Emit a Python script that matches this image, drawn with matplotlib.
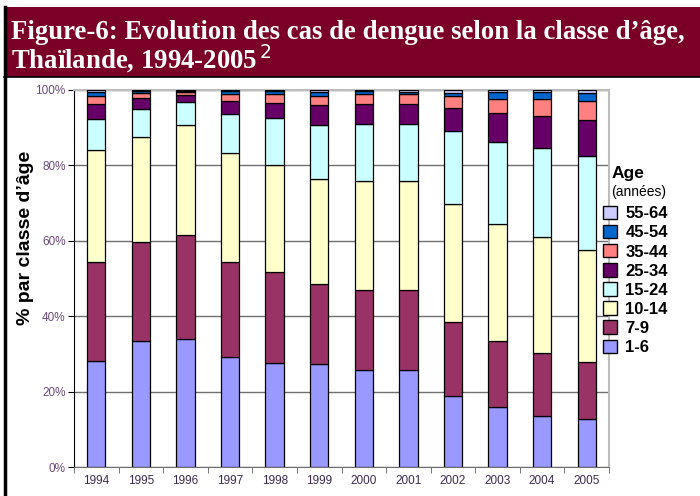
import matplotlib.pyplot as plt
import numpy as np
from matplotlib.patches import Rectangle, Patch
from matplotlib.lines import Line2D

years = ['1994', '1995', '1996', '1997', '1998', '1999',
         '2000', '2001', '2002', '2003', '2004', '2005']
age_groups = ['1-6', '7-9', '10-14', '15-24', '25-34', '35-44', '45-54', '55-64']

# share of cases (%) per age group
age_1_6 = [28.0, 33.4, 34.0, 29.2, 27.7, 27.2, 25.8, 25.8, 18.8, 15.9, 13.5, 12.6]
age_7_9 = [26.3, 26.2, 27.6, 25.1, 24.0, 21.4, 21.2, 21.2, 19.6, 17.5, 16.8, 15.3]
age_10_14 = [29.8, 27.9, 29.2, 29.0, 28.4, 27.8, 28.9, 28.9, 31.4, 31.1, 30.7, 29.6]
age_15_24 = [8.2, 7.5, 6.1, 10.3, 12.6, 14.2, 15.2, 15.2, 19.4, 21.6, 23.6, 24.9]
age_25_34 = [4.0, 2.8, 1.9, 3.6, 3.9, 5.3, 5.2, 5.2, 6.0, 7.7, 8.6, 9.7]
age_35_44 = [2.1, 1.3, 0.7, 1.7, 2.3, 2.5, 2.6, 2.6, 3.1, 3.7, 4.3, 5.0]
age_45_54 = [1.1, 0.6, 0.3, 0.8, 0.8, 1.2, 0.8, 0.7, 1.0, 2.0, 2.1, 2.1]
age_55_64 = [0.5, 0.3, 0.2, 0.3, 0.3, 0.4, 0.3, 0.4, 0.7, 0.5, 0.4, 0.8]

series = [age_1_6, age_7_9, age_10_14, age_15_24,
          age_25_34, age_35_44, age_45_54, age_55_64]
colors = ['#9999FF', '#993366', '#FFFFCC', '#CCFFFF',
          '#660066', '#FF8080', '#0066CC', '#CCCCFF']

plt.rcParams['font.family'] = ['Liberation Sans', 'DejaVu Sans']

fig = plt.figure(figsize=(7, 4.96), dpi=100)
ax = fig.add_axes([74 / 700, 1 - 467 / 496, 535 / 700, 377 / 496])

# title band
fig.patches.append(Rectangle((4 / 700, 1 - 77 / 496), 696 / 700, 70 / 496,
                             transform=fig.transFigure, facecolor='#7A0027',
                             edgecolor='none', zorder=0))
fig.lines.append(Line2D([5 / 700, 5 / 700], [0, 1 - 7 / 496],
                        transform=fig.transFigure, color='black', lw=2.5))
fig.lines.append(Line2D([4 / 700, 1], [1 - 77 / 496, 1 - 77 / 496],
                        transform=fig.transFigure, color='black', lw=1.2))
title = ("Figure-6: Evolution des cas de dengue selon la classe d\u2019\u00e2ge,\n"
         "Tha\u00eflande, 1994-2005$^{\\,2}$")
fig.text(11 / 700, 1 - 20 / 496, title, family='Liberation Serif',
         fontweight='bold', fontsize=19.3, color='white', va='top',
         linespacing=0.9)

x = np.arange(len(years))
bottom = np.zeros(len(years))
for vals, col, lab in zip(series, colors, age_groups):
    ax.bar(x, vals, width=0.41, bottom=bottom, color=col,
           edgecolor='black', linewidth=0.9, label=lab, zorder=3)
    bottom += np.array(vals)

ax.set_xlim(-0.5, len(years) - 0.5)
ax.set_ylim(0, 100)
ax.set_yticks([0, 20, 40, 60, 80, 100])
ax.set_yticklabels(['0%', '20%', '40%', '60%', '80%', '100%'])
ax.get_yticklabels()[0].set_fontsize(6)
ax.set_xticks(x)
ax.set_xticklabels(years)
ax.set_xticks(np.arange(-0.5, len(years)), minor=True)
ax.tick_params(axis='x', which='major', length=0, pad=6,
               labelsize=8.5, labelcolor='#3b2b4b')
ax.tick_params(axis='x', which='minor', length=4, color='#606060')
ax.tick_params(axis='y', length=4, pad=2, labelsize=8.5, labelcolor='#6a4a7a')

ax.yaxis.grid(True, color='#707070', lw=1)
ax.set_axisbelow(True)
ax.spines['left'].set_color('black')
ax.spines['bottom'].set_color('#707070')
ax.spines['top'].set_color('#bdbdbd')
ax.spines['right'].set_color('#bdbdbd')
ax.spines['top'].set_linewidth(1.5)
ax.spines['right'].set_linewidth(1.5)

ax.set_ylabel("% par classe d\u2019\u00e2ge", fontsize=14, fontweight='bold')
ax.yaxis.set_label_coords(-0.075, 0.607)

# legend
fig.text(612 / 700, 1 - 173 / 496, 'Age', fontsize=12.5, fontweight='bold',
         va='center')
fig.text(611 / 700, 1 - 192 / 496, '(ann\u00e9es)', fontsize=10,
         va='center')
handles = [Patch(facecolor=c, edgecolor='black', lw=1) for c in colors]
leg = fig.legend(handles[::-1], age_groups[::-1], loc='upper left',
                 bbox_to_anchor=(588 / 700, 1 - 191 / 496), frameon=False,
                 handlelength=0.85, handleheight=0.85, handletextpad=0.5,
                 labelspacing=0.22, prop={'weight': 'bold', 'size': 12})

fig.savefig('out.png', dpi=100)
